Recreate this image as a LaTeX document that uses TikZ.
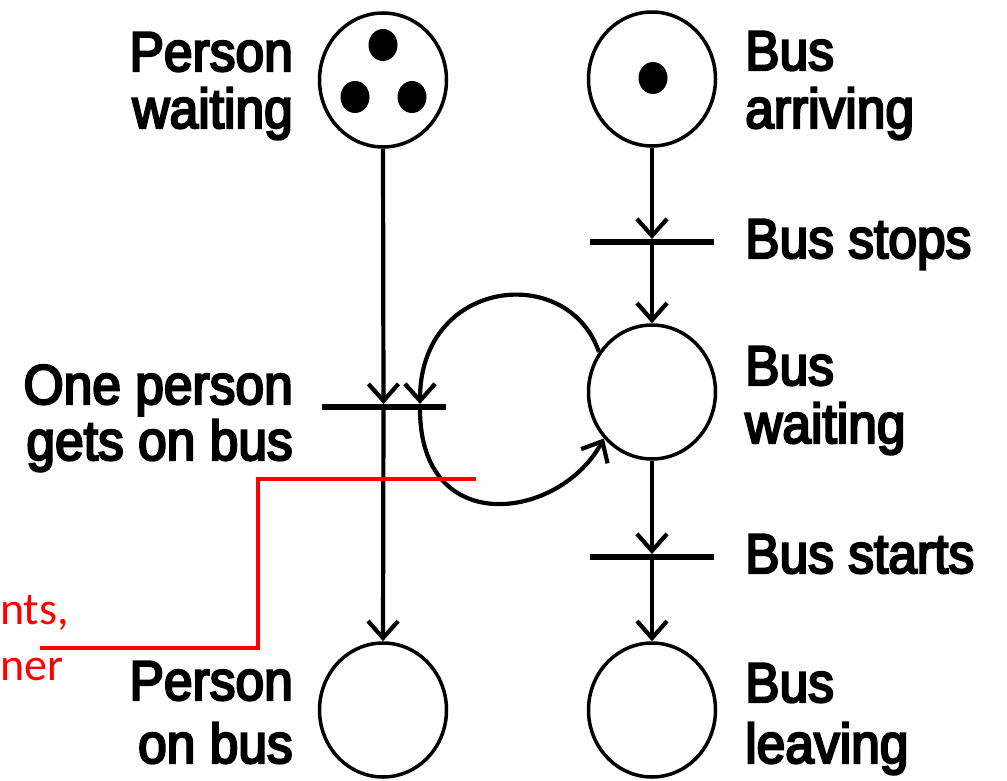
\documentclass[tikz,border=0pt]{standalone}
\usepackage{fontspec}
\newfontfamily\lbl{Liberation Sans}[FakeStretch=0.92,FakeBold=4]
\newfontfamily\redf{Carlito}
\usetikzlibrary{arrows.meta,shapes.geometric}
\begin{document}
\begin{tikzpicture}[x=1pt,y=-1pt,
  place/.style={ellipse, draw, line width=3.5pt, minimum width=127pt, minimum height=134pt, inner sep=0pt},
  trans/.style={rectangle, fill=black, minimum width=124pt, minimum height=5.5pt, inner sep=0pt},
  tok/.style={ellipse, fill=black, minimum width=29pt, minimum height=32pt, inner sep=0pt},
  flow/.style={line width=4.2pt, -{Straight Barb[length=17pt,width=30pt]}},
  lblL/.style={anchor=base east, inner sep=0pt, font=\lbl\fontsize{56}{60}\selectfont},
  lblR/.style={anchor=base west, inner sep=0pt, font=\lbl\fontsize{56}{60}\selectfont},
  note/.style={anchor=base west, inner sep=0pt, text=red, font=\redf\fontsize{46}{50}\selectfont},
  pointer/.style={draw=red, line width=4.5pt}
]
\useasboundingbox (0,0) rectangle (1007,781);

% places
\node[place] (pw) at (383,80) {};
\node[place] (ba) at (652,79) {};
\node[place] (bw) at (652,392) {};
\node[place] (pb) at (383,710) {};
\node[place] (bl) at (652,710) {};

% tokens
\node[tok] (k1) at (383,45) {};
\node[tok] (k2) at (355,97) {};
\node[tok] (k3) at (412,97) {};
\node[tok] (k4) at (653,78) {};

% transitions
\node[trans] (t1) at (652,242) {};
\node[trans] (t2) at (383.5,407) {};
\node[trans] (t3) at (652,557) {};
\coordinate (t2in) at (420,404);
\coordinate (t2out) at (420,409);

% arcs
\draw[flow] (pw.south) -- (t2.north);
\draw[flow] (t2.south) -- (pb.north);
\draw[flow] (ba.south) -- (t1.north);
\draw[flow] (t1.south) -- (bw.north);
\draw[flow] (bw.south) -- (t3.north);
\draw[flow] (t3.south) -- (bl.north);
\draw[flow] (bw.143) .. controls (568,262) and (420,278) .. (t2in);
\draw[flow] (t2out) .. controls (420,540) and (560,520) .. (bw.224);

% labels
\node[lblL] (lpw1) at (293,71) {Person};
\node[lblL] (lpw2) at (293,128) {waiting};
\node[lblR] (lba1) at (745,70) {Bus};
\node[lblR] (lba2) at (745,128) {arriving};
\node[lblR] (lt1) at (745,258) {Bus stops};
\node[lblR] (lbw1) at (745,385) {Bus};
\node[lblR] (lbw2) at (745,443) {waiting};
\node[lblL] (lt21) at (293,404) {One person};
\node[lblL] (lt22) at (293,460) {gets on bus};
\node[lblR] (lt3) at (745,573) {Bus starts};
\node[lblL] (lpb1) at (293,700) {Person};
\node[lblL] (lpb2) at (293,763) {on bus};
\node[lblR] (lbl1) at (745,702) {Bus};
\node[lblR] (lbl2) at (745,763) {leaving};

% red annotation
\node[note] (n1) at (0,624) {nts,};
\node[note] (n2) at (0,680) {ner};
\coordinate (rp) at (476,479);
\coordinate (rq) at (40,648);
\draw[pointer] (rp) -| (258,648) -- (rq);
\end{tikzpicture}
\end{document}
